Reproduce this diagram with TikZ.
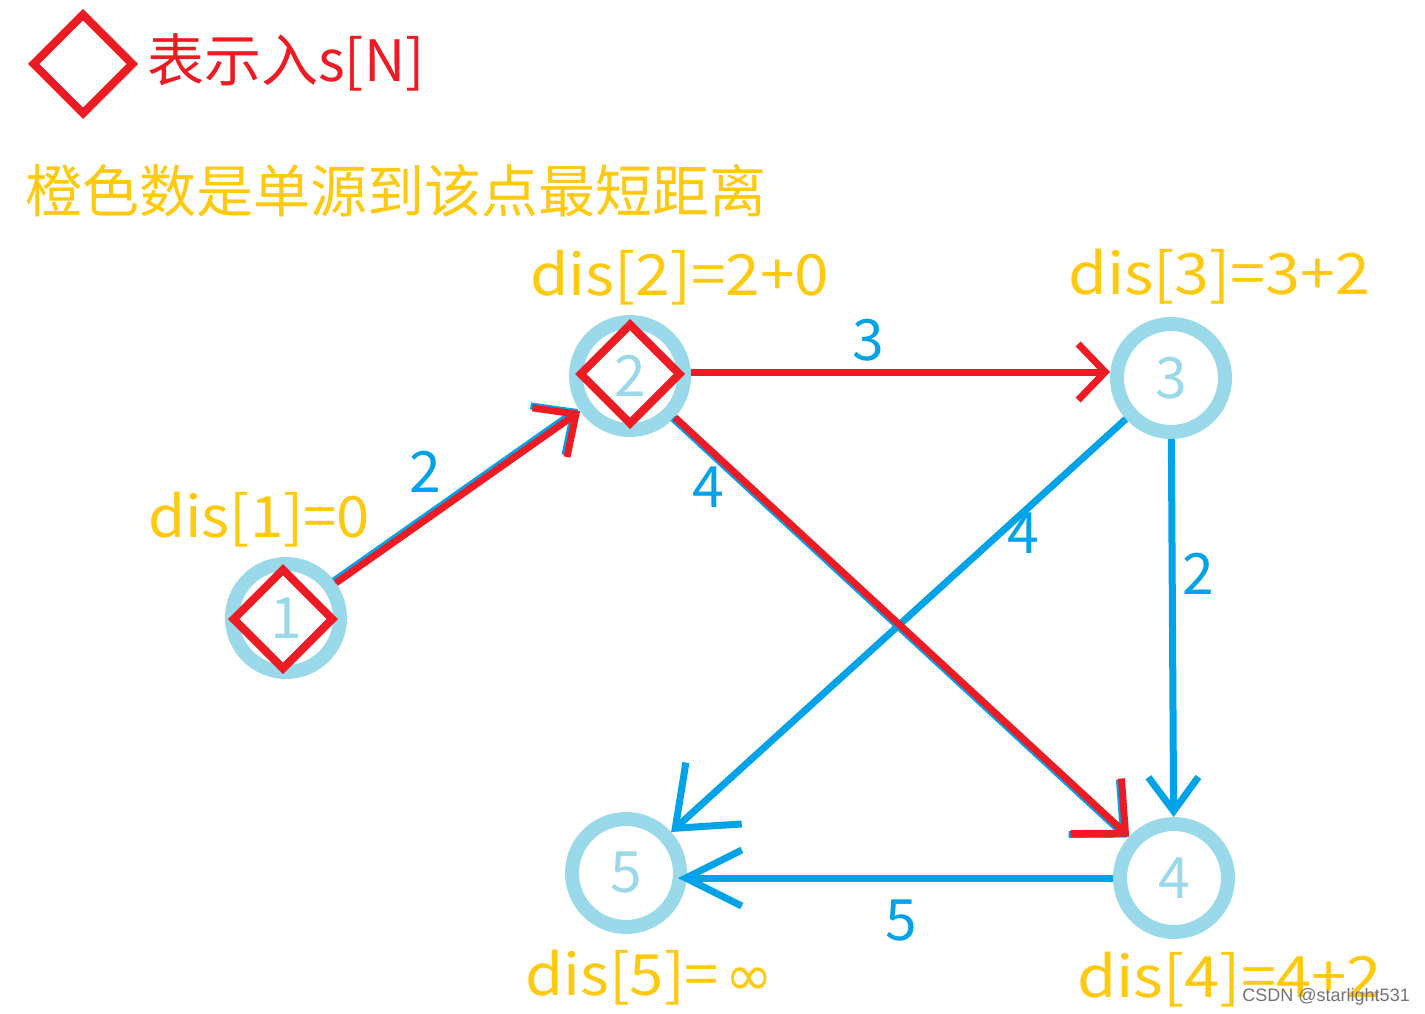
\documentclass[tikz,border=0pt]{standalone}
\usepackage{fontspec}
\setmainfont{Noto Sans CJK SC}
\newfontfamily\wmfont{Liberation Sans}
\newfontfamily\symfont{DejaVu Sans}
\usetikzlibrary{arrows.meta,shapes.geometric}
\definecolor{pred}{HTML}{ED1C24}
\definecolor{pblue}{HTML}{00A2E8}
\definecolor{plblue}{HTML}{99D9EA}
\definecolor{pgold}{HTML}{FFC90E}
\begin{document}
\begin{tikzpicture}[x=1pt,y=-1pt,
  bigfont/.style={font=\fontsize{57}{60}\selectfont},
  vert/.style={circle, draw=plblue, line width=14pt, minimum size=108pt, inner sep=0pt, text=plblue, bigfont},
  inmark/.style={diamond, draw=pred, line width=8pt, minimum width=102pt, minimum height=102pt, inner sep=0pt, aspect=1},
  dislabel/.style={anchor=base west, inner sep=0pt, text=pgold, bigfont},
  wlabel/.style={anchor=base, inner sep=0pt, text=pblue, bigfont},
  redge/.style={draw=pred, line width=7pt},
  bedge/.style={draw=pblue, line width=7pt},
]
\useasboundingbox (0,0) rectangle (1425,1014);
\fill[white] (0,0) rectangle (1425,1014);

% legend
\node[inmark] (legmark) at (83,64) {};
\node[anchor=base west, inner sep=0pt, text=pred, bigfont] (legtext) at (147,82) {表示入s[N]};
\node[anchor=base west, inner sep=0pt, text=pgold, bigfont] (title) at (25,212) {橙色数是单源到该点最短距离};

% vertices
\node[vert] (n1) at (286,618) {1};
\node[vert] (n2) at (630,376) {2};
\node[vert] (n3) at (1171,378) {3};
\node[vert] (n4) at (1174,878) {4};
\node[vert] (n5) at (626,873) {5};

% in-set markers
\node[inmark] (m1) at (283,619) {};
\node[inmark] (m2) at (630,374) {};

% distance labels
\node[dislabel] (d1) at (148,537) {\scalebox{1.05}[1]{dis[1]=0}};
\node[dislabel] (d2) at (530,295) {\scalebox{1.09}[1]{dis[2]=2+0}};
\node[dislabel] (d3) at (1068,294) {\scalebox{1.10}[1]{dis[3]=3+2}};
\node[dislabel] (d4) at (1077,997) {\scalebox{1.11}[1]{dis[4]=4+2}};
\node[dislabel] (d5) at (525,995) {\scalebox{1.08}[1]{dis[5]=}\hspace{6pt}{\symfont ∞}};

% blue edges
\draw[bedge, -{Straight Barb[length=52pt,width=83pt]}] (n3) -- (n5);
\draw[bedge, -{Straight Barb[length=34pt,width=50pt]}] (n3) -- (n4);
\draw[bedge, -{Straight Barb[length=56pt,width=56pt]}, shorten >=-9pt] (n4.west) -- (n4.west -| n5.east);

% red edges (with blue underlay)
\draw[bedge, -{Straight Barb[length=32pt,width=60pt]}, transform canvas={shift={(-2pt,2pt)}}] (n1) -- (n2);
\draw[redge, -{Straight Barb[length=32pt,width=60pt]}] (n1) -- (n2);
\draw[redge, -{Straight Barb[length=27pt,width=56pt]}] ([yshift=4pt]n2.east) -- ([yshift=6pt]n3.west);
\draw[bedge, -{Straight Barb[length=40pt,width=75pt]}, transform canvas={shift={(-2pt,-1pt)}}] (n2) -- (n4);
\draw[redge, -{Straight Barb[length=40pt,width=75pt]}] (n2) -- (n4);

% weights
\node[wlabel] (w12) at (425,492) {2};
\node[wlabel] (w23) at (868,360) {3};
\node[wlabel] (w24) at (708,507) {4};
\node[wlabel] (w35) at (1023,553) {4};
\node[wlabel] (w34) at (1198,594) {2};
\node[wlabel] (w45) at (901,940) {5};

% watermark
\node[anchor=base east, inner sep=0pt, text=black!55, font=\wmfont\fontsize{18}{20}\selectfont] (wm) at (1410,1001) {CSDN @starlight531};
\end{tikzpicture}
\end{document}
